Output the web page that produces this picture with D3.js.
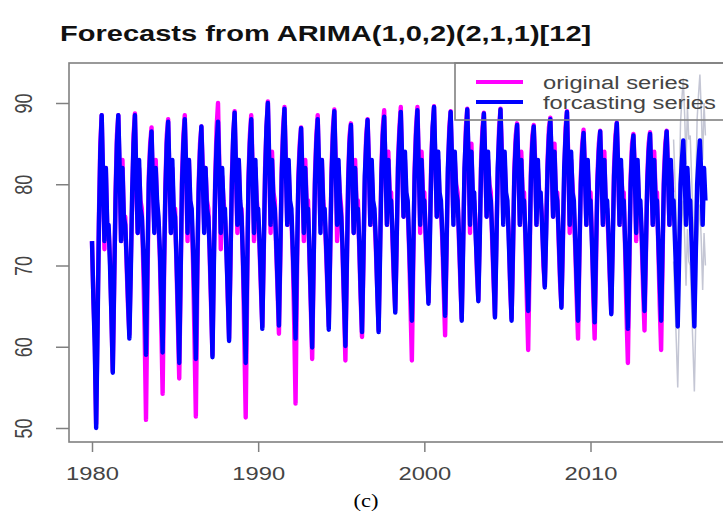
<!DOCTYPE html>
<html>
<head>
<meta charset="utf-8">
<script src="https://cdn.jsdelivr.net/npm/d3@7"></script>
<style>
body { margin: 0; background: #fff; }
svg { display: block; font-family: "Liberation Sans", Arial, sans-serif; }
</style>
</head>
<body>
<div id="chart"></div>
<script>
// monthly values, one row per year (Jan..Dec)
var years = [1980, 1981, 1982, 1983, 1984, 1985, 1986, 1987, 1988, 1989,
             1990, 1991, 1992, 1993, 1994, 1995, 1996, 1997, 1998, 1999,
             2000, 2001, 2002, 2003, 2004, 2005, 2006, 2007, 2008, 2009,
             2010, 2011, 2012, 2013, 2014, 2015, 2016];

var original = [
  [73, 66, 61, 50.5, 63, 76, 85, 88.5, 80, 72, 82, 74.5],
  [74.5, 71, 64, 57, 67, 79, 86, 88.5, 81, 73, 83, 76],
  [76, 70, 65, 61.5, 70, 78, 86, 88.7, 80, 74, 82, 78],
  [77, 70, 62, 51, 66, 81, 85, 87, 79, 75, 83, 77],
  [75, 71, 63, 54.2, 68, 80, 86, 88, 80, 74, 82, 76],
  [77, 70, 63, 56.1, 68, 81, 86, 88.5, 81, 73, 83, 77],
  [76, 70, 61, 51.4, 67, 80, 85, 87.1, 82, 75, 82, 78],
  [77, 71, 65, 59, 71, 81, 87, 90, 82, 72, 81, 78],
  [76, 73, 66, 61, 70, 81, 86, 89, 81, 74, 83, 77],
  [77, 70, 61, 51.3, 66, 81, 86, 88.5, 82, 73, 82, 78],
  [76, 72, 67, 62.5, 71, 82, 87, 90.2, 82, 74, 84, 79],
  [78, 72, 67, 61.6, 71, 82, 87, 89.5, 83, 75, 82, 77],
  [76, 71, 63, 53, 68, 81, 85, 87, 80, 73, 83, 78],
  [78, 71, 65, 58.5, 69, 81, 86, 88.5, 81, 75, 83, 78],
  [76, 72, 67, 62.5, 71, 82, 87, 89.2, 83, 73, 82, 79],
  [77, 71, 65, 58.3, 69, 81, 86, 87.5, 80, 74, 83, 78],
  [78, 72, 66, 61.2, 70, 80, 86, 88, 83, 75, 82, 77],
  [76, 72, 67, 62, 72, 82, 87, 89.1, 81, 75, 84, 79],
  [79, 73, 68, 64.5, 72, 83, 87, 89.5, 82, 76, 83, 78],
  [77, 72, 65, 58.3, 70, 82, 87, 89.5, 83, 74, 84, 79],
  [79, 73, 69, 65.5, 74, 83, 87, 89.6, 82, 76, 83, 78],
  [77, 73, 67, 61.4, 71, 81, 87, 89, 82, 76, 83, 80],
  [79, 73, 68, 63.5, 73, 81, 87, 89.3, 82, 74, 85, 78],
  [78, 75, 69, 65.8, 74, 83, 87, 88.8, 82, 76, 83, 80],
  [79, 73, 68, 63.8, 73, 81, 87, 89.3, 84, 76, 83, 78],
  [77, 74, 67, 63.5, 71, 82, 86, 87.5, 81, 75, 84, 79],
  [79, 73, 66, 59.6, 70, 82, 86, 87.3, 83, 75, 82, 79],
  [78, 76, 70, 67.5, 75, 83, 87, 88.2, 82, 76, 85, 78],
  [79, 73, 68, 65, 72, 81, 87, 89, 83, 74, 83, 80],
  [77, 72, 66, 61, 71, 81, 85, 86.7, 82, 75, 82, 79],
  [79, 74, 66, 61, 70, 81, 85, 86.6, 80, 75, 84, 77],
  [77, 73, 68, 64.2, 73, 82, 86, 87.6, 81, 75, 82, 79],
  [79, 72, 64, 58, 69, 81, 85, 86.2, 82, 73, 82, 77],
  [77, 73, 67, 62, 71, 81, 85, 86.4, 80, 75, 84, 79],
  [79, 72, 65, 59.6, 70, 81, 85, 86.6, 82, 75, 82, 79]
];

var forecast = [
  [73, 66, 60, 50, 62, 75, 84, 88.5, 81, 73, 82, 75],
  [75, 70, 64, 56.8, 68, 78, 85, 88.5, 82, 73, 82, 76],
  [75, 71, 66, 61, 69, 79, 85, 88.5, 81, 74, 83, 77],
  [76, 72, 67, 59, 70, 80, 84, 86.5, 80, 74, 82, 78],
  [76, 72, 66, 59.3, 70, 79, 85, 87.7, 81, 74, 83, 77],
  [76, 71, 65, 58, 69, 80, 85, 88, 82, 74, 83, 78],
  [77, 72, 66, 58.5, 70, 79, 84, 87.1, 81, 74, 82, 77],
  [76, 72, 66, 58.7, 70, 80, 85, 87.7, 81, 74, 82, 77],
  [77, 72, 67, 60.7, 71, 80, 86, 88.8, 82, 75, 83, 78],
  [76, 71, 65, 58, 69, 80, 85, 88, 81, 74, 83, 77],
  [77, 73, 68, 62.2, 72, 81, 87, 90, 83, 75, 83, 78],
  [77, 73, 68, 62.6, 72, 81, 86, 89.3, 82, 75, 83, 78],
  [77, 72, 67, 61, 71, 80, 84, 86.9, 81, 74, 82, 77],
  [77, 72, 66, 59.9, 70, 80, 85, 88, 82, 74, 83, 77],
  [77, 73, 68, 62.1, 72, 81, 86, 89, 82, 75, 83, 78],
  [76, 72, 66, 60.1, 70, 80, 85, 87.3, 81, 74, 82, 77],
  [77, 73, 67, 61.8, 71, 81, 85, 87.9, 82, 75, 83, 78],
  [77, 73, 67, 61.8, 71, 81, 86, 88.3, 82, 75, 83, 78],
  [78, 74, 69, 64.2, 73, 82, 86, 88.9, 83, 76, 84, 79],
  [78, 73, 68, 63.2, 72, 81, 86, 89.1, 82, 75, 83, 78],
  [78, 74, 70, 65.3, 73, 82, 87, 89.5, 83, 76, 84, 79],
  [78, 74, 69, 63.8, 72, 82, 86, 88.9, 83, 75, 84, 79],
  [78, 74, 69, 63.2, 72, 82, 86, 89.2, 83, 75, 84, 79],
  [79, 74, 70, 65.6, 73, 82, 86, 88.7, 83, 76, 84, 79],
  [78, 74, 69, 63.6, 72, 82, 86, 89.2, 83, 75, 84, 79],
  [78, 73, 68, 63.2, 72, 81, 85, 87.3, 82, 75, 83, 78],
  [78, 74, 69, 64.4, 72, 81, 85, 87.1, 82, 75, 83, 78],
  [79, 75, 71, 67.3, 74, 82, 86, 88, 83, 76, 84, 79],
  [78, 74, 69, 64.8, 73, 82, 86, 88.9, 82, 75, 84, 79],
  [78, 73, 68, 63.2, 72, 80, 84, 86.3, 81, 75, 83, 78],
  [78, 73, 68, 63, 72, 80, 84, 86.5, 81, 75, 83, 78],
  [78, 74, 69, 64, 72, 81, 85, 87.5, 82, 75, 83, 78],
  [78, 73, 68, 62.2, 71, 80, 84, 86, 81, 74, 83, 78],
  [78, 74, 69, 64.4, 72, 80, 84, 86.2, 81, 75, 83, 78],
  [78, 73, 68, 63.2, 72, 80, 84, 86.5, 81, 75, 83, 78],
  [78, 73, 68, 62.5, 71, 80, 83, 85.4, 81, 75, 82, 78],
  [78, 73, 68, 62.5, 71, 80, 83, 85.4, 81, 75, 82, 78]
];

// prediction bounds for 2015-2016
var boundYears = [2015, 2016];
var upper = [
  [85.5, 80.5, 75.5, 70, 78.5, 87.5, 90.5, 93, 88.5, 82.5, 89.5, 85.5],
  [86, 81, 76, 70.5, 79, 88, 91, 93.5, 89, 83, 90, 86]
];
var lower = [
  [70.5, 65.5, 60.5, 55, 63.5, 72.5, 75.5, 78, 73.5, 67.5, 74.5, 70.5],
  [70, 65, 60, 54.5, 63, 72, 75, 77.5, 73, 67, 74, 70]
];

var xTicks = [1980, 1990, 2000, 2010];
var yTicks = [50, 60, 70, 80, 90];
var legendLabels = ['original series', 'forcasting series'];
var legendColors = ['#ff00ff', '#0000ff'];
var title = 'Forecasts from ARIMA(1,0,2)(2,1,1)[12]';

var W = 723, H = 516, stretch = 1.32;
var box = {left: 69, top: 63, right: 729, bottom: 442};

var svg = d3.select('#chart').append('svg').attr('width', W).attr('height', H);

var x = d3.scaleLinear().domain([1980, 2010]).range([92, 590.5]);
var y = d3.scaleLinear().domain([50, 90]).range([428, 103]);

function monthly(rows, startYear) {
  var pts = [];
  rows.forEach(function(r, i) {
    r.forEach(function(v, m) { pts.push([startYear + i + m / 12, v]); });
  });
  return pts;
}

var line = d3.line().x(function(d) { return x(d[0]); }).y(function(d) { return y(d[1]); });

svg.append('clipPath').attr('id', 'clip').append('rect')
  .attr('x', box.left).attr('y', box.top)
  .attr('width', box.right - box.left).attr('height', box.bottom - box.top);

var g = svg.append('g').attr('clip-path', 'url(#clip)');

[upper, lower].forEach(function(b) {
  g.append('path').attr('d', line(monthly(b, boundYears[0])))
    .attr('fill', 'none').attr('stroke', '#c4c6d4').attr('stroke-width', 1.5);
});

g.append('path').attr('d', line(monthly(original, years[0])))
  .attr('fill', 'none').attr('stroke', legendColors[0]).attr('stroke-width', 4.4)
  .attr('stroke-linejoin', 'round');

g.append('path').attr('d', line(monthly(forecast, years[0])))
  .attr('fill', 'none').attr('stroke', legendColors[1]).attr('stroke-width', 4.4)
  .attr('stroke-linejoin', 'round');

// box
svg.append('rect')
  .attr('x', box.left).attr('y', box.top)
  .attr('width', box.right - box.left).attr('height', box.bottom - box.top)
  .attr('fill', 'none').attr('stroke', '#808080').attr('stroke-width', 1.6);

// x axis
var xAxis = svg.append('g').attr('transform', 'translate(0,' + box.bottom + ')')
  .call(d3.axisBottom(x).tickValues(xTicks).tickSize(10).tickFormat(d3.format('d')));
xAxis.select('.domain').remove();
xAxis.selectAll('.tick line').attr('stroke', '#808080').attr('stroke-width', 1.5);
xAxis.selectAll('.tick text')
  .attr('y', 38).attr('dy', null)
  .attr('transform', 'scale(' + stretch + ',1)')
  .attr('fill', '#444').style('font-size', '18px');

// y axis
var yAxis = svg.append('g').attr('transform', 'translate(' + box.left + ',0)')
  .call(d3.axisLeft(y).tickValues(yTicks).tickSize(13));
yAxis.select('.domain').remove();
yAxis.selectAll('.tick line').attr('stroke', '#808080').attr('stroke-width', 1.5);
yAxis.selectAll('.tick text')
  .attr('x', 0).attr('dy', null)
  .attr('text-anchor', 'middle')
  .attr('transform', 'translate(-37,0) scale(' + stretch + ',1) rotate(-90)')
  .attr('fill', '#444').style('font-size', '18px');

// title
svg.append('text')
  .attr('transform', 'translate(60,41) scale(' + stretch + ',1)')
  .attr('font-weight', 'bold').attr('font-size', 22).attr('fill', '#111')
  .text(title);

// legend
var leg = svg.append('g');
leg.append('rect')
  .attr('x', 455).attr('y', box.top)
  .attr('width', box.right - 455).attr('height', 120 - box.top)
  .attr('fill', 'none').attr('stroke', '#808080').attr('stroke-width', 1.6);
legendLabels.forEach(function(lab, i) {
  var ly = 82 + i * 20;
  leg.append('line').attr('x1', 476).attr('x2', 523).attr('y1', ly).attr('y2', ly)
    .attr('stroke', legendColors[i]).attr('stroke-width', 4);
  leg.append('text')
    .attr('transform', 'translate(543,' + (ly + 6.5) + ') scale(' + stretch + ',1)')
    .attr('font-size', 18).attr('fill', '#444')
    .text(lab);
});

// caption
svg.append('text')
  .attr('transform', 'translate(366,507) scale(1.25,1)')
  .attr('text-anchor', 'middle')
  .attr('font-family', '"Liberation Serif", "Times New Roman", serif')
  .attr('font-size', 18).attr('fill', '#000')
  .text('(c)');
</script>
</body>
</html>
